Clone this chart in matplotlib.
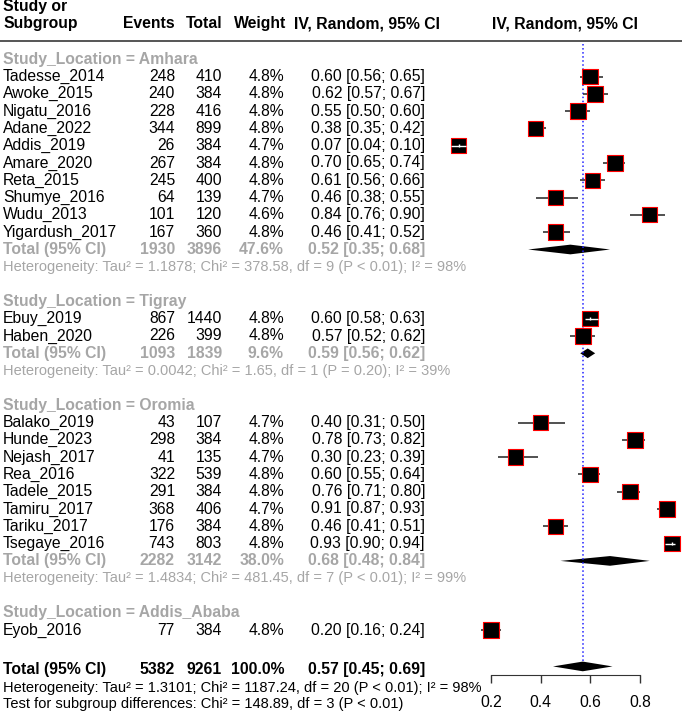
import matplotlib
matplotlib.use("Agg")
import matplotlib.pyplot as plt
import matplotlib.transforms as mtransforms
import numpy as np

plt.rcParams['font.family'] = ['Liberation Sans', 'DejaVu Sans']

# ---- data ----
groups = ["Amhara", "Tigray", "Oromia", "Addis_Ababa"]

studies = [
    ["Tadesse_2014", "Awoke_2015", "Nigatu_2016", "Adane_2022", "Addis_2019",
     "Amare_2020", "Reta_2015", "Shumye_2016", "Wudu_2013", "Yigardush_2017"],
    ["Ebuy_2019", "Haben_2020"],
    ["Balako_2019", "Hunde_2023", "Nejash_2017", "Rea_2016", "Tadele_2015",
     "Tamiru_2017", "Tariku_2017", "Tsegaye_2016"],
    ["Eyob_2016"],
]
events = [
    [248, 240, 228, 344, 26, 267, 245, 64, 101, 167],
    [867, 226],
    [43, 298, 41, 322, 291, 368, 176, 743],
    [77],
]
totals = [
    [410, 384, 416, 899, 384, 384, 400, 139, 120, 360],
    [1440, 399],
    [107, 384, 135, 539, 384, 406, 384, 803],
    [384],
]
weights = [
    [4.8, 4.8, 4.8, 4.8, 4.7, 4.8, 4.8, 4.7, 4.6, 4.8],
    [4.8, 4.8],
    [4.7, 4.8, 4.7, 4.8, 4.8, 4.7, 4.8, 4.8],
    [4.8],
]
est = [
    [0.60, 0.62, 0.55, 0.38, 0.07, 0.70, 0.61, 0.46, 0.84, 0.46],
    [0.60, 0.57],
    [0.40, 0.78, 0.30, 0.60, 0.76, 0.91, 0.46, 0.93],
    [0.20],
]
lower = [
    [0.56, 0.57, 0.50, 0.35, 0.04, 0.65, 0.56, 0.38, 0.76, 0.41],
    [0.58, 0.52],
    [0.31, 0.73, 0.23, 0.55, 0.71, 0.87, 0.41, 0.90],
    [0.16],
]
upper = [
    [0.65, 0.67, 0.60, 0.42, 0.10, 0.74, 0.66, 0.55, 0.90, 0.52],
    [0.63, 0.62],
    [0.50, 0.82, 0.39, 0.64, 0.80, 0.93, 0.51, 0.94],
    [0.24],
]

# subgroup pooled results (None for single-study group)
sub_events = [1930, 1093, 2282, None]
sub_totals = [3896, 1839, 3142, None]
sub_weight = [47.6, 9.6, 38.0, None]
sub_est = [0.52, 0.59, 0.68, None]
sub_lower = [0.35, 0.56, 0.48, None]
sub_upper = [0.68, 0.62, 0.84, None]
sub_het = [
    "Heterogeneity: Tau² = 1.1878; Chi² = 378.58, df = 9 (P < 0.01); I² = 98%",
    "Heterogeneity: Tau² = 0.0042; Chi² = 1.65, df = 1 (P = 0.20); I² = 39%",
    "Heterogeneity: Tau² = 1.4834; Chi² = 481.45, df = 7 (P < 0.01); I² = 99%",
    None,
]

overall_events = 5382
overall_total = 9261
overall_est, overall_lower, overall_upper = 0.57, 0.45, 0.69
overall_het = "Heterogeneity: Tau² = 1.3101; Chi² = 1187.24, df = 20 (P < 0.01); I² = 98%"
subgroup_test = "Test for subgroup differences: Chi² = 148.89, df = 3 (P < 0.01)"
xticks = [0.2, 0.4, 0.6, 0.8]

# ---- layout ----
W, H = 682, 711
row_h = 17.3
y_first = 76.5          # pixel position of row 0
x0_px, px_per_unit = 491.0, 248.0   # where 0.2 sits, and scale
GRAY = "#a6a6a6"
FS = 11.3
FS_HET = 10.5

fig = plt.figure(figsize=(W / 100, H / 100), dpi=100)
ax = fig.add_axes([0, 0, 1, 1])
ax.set_xlim(0.2 - x0_px / px_per_unit, 0.2 + (W - x0_px) / px_per_unit)
ax.set_ylim((H - y_first) / row_h, -y_first / row_h)

tr = mtransforms.blended_transform_factory(ax.transAxes, ax.transData)


def col(px):
    return px / W


def put(px, row, s, ha="left", color="black", bold=False, size=FS):
    ax.text(col(px), row, s, transform=tr, ha=ha, va="center", color=color,
            fontsize=size, fontweight="bold" if bold else "normal")


# header
put(3, -4.04, "Study or", bold=True)
put(3, -3.06, "Subgroup", bold=True)
put(175, -3.06, "Events", ha="right", bold=True)
put(223, -3.06, "Total", ha="right", bold=True)
put(286, -3.06, "Weight", ha="right", bold=True)
put(367.5, -3.06, "IV, Random, 95% CI", ha="center", bold=True)
put(565, -3.06, "IV, Random, 95% CI", ha="center", bold=True)
ax.axhline(-2.05, color="#555555", lw=1.4)

sq_rows, sq_est, sq_lo, sq_hi, sq_w = [], [], [], [], []
r = -1
for g in range(len(groups)):
    put(3, r, "Study_Location = " + groups[g], color=GRAY, bold=True)
    r += 1
    for i in range(len(studies[g])):
        put(3, r, studies[g][i])
        put(175, r, str(events[g][i]), ha="right")
        put(222, r, str(totals[g][i]), ha="right")
        put(284, r, f"{weights[g][i]:.1f}%", ha="right")
        put(425, r, f"{est[g][i]:.2f} [{lower[g][i]:.2f}; {upper[g][i]:.2f}]", ha="right")
        sq_rows.append(r)
        sq_est.append(est[g][i])
        sq_lo.append(lower[g][i])
        sq_hi.append(upper[g][i])
        sq_w.append(weights[g][i])
        r += 1
    if sub_est[g] is not None:
        put(3, r, "Total (95% CI)", color=GRAY, bold=True)
        put(175, r, str(sub_events[g]), ha="right", color=GRAY, bold=True)
        put(222, r, str(sub_totals[g]), ha="right", color=GRAY, bold=True)
        put(284, r, f"{sub_weight[g]:.1f}%", ha="right", color=GRAY, bold=True)
        put(425, r, f"{sub_est[g]:.2f} [{sub_lower[g]:.2f}; {sub_upper[g]:.2f}]",
            ha="right", color=GRAY, bold=True)
        hh = 0.28
        ax.fill([sub_lower[g], sub_est[g], sub_upper[g], sub_est[g]],
                [r, r - hh, r, r + hh], color="black", lw=0)
        r += 1
        put(3, r, sub_het[g], color=GRAY, size=FS_HET)
        r += 1
    r += 1

# overall
r_tot = r + 0.25
put(3, r_tot, "Total (95% CI)", bold=True)
put(175, r_tot, str(overall_events), ha="right", bold=True)
put(222, r_tot, str(overall_total), ha="right", bold=True)
put(284, r_tot, "100.0%", ha="right", bold=True)
put(425, r_tot, f"{overall_est:.2f} [{overall_lower:.2f}; {overall_upper:.2f}]",
    ha="right", bold=True)
put(3, r + 1.37, overall_het, size=FS_HET)
put(3, r + 2.25, subgroup_test, size=FS_HET)
ax.fill([overall_lower, overall_est, overall_upper, overall_est],
        [r + 0.1, r + 0.1 - 0.28, r + 0.1, r + 0.1 + 0.28], color="black", lw=0)

# reference line
ax.vlines(overall_est, -1.88, r - 0.2, colors="#2020ff", linestyles=":", lw=1.1)

# study squares with CIs
sq_rows = np.array(sq_rows)
sq_est = np.array(sq_est)
sq_lo = np.array(sq_lo)
sq_hi = np.array(sq_hi)
side_px = 15.5 * np.sqrt(np.array(sq_w) / 4.8)
ax.hlines(sq_rows, sq_lo, sq_hi, colors="#333333", lw=1.2, zorder=2)
ax.scatter(sq_est, sq_rows, marker="s", s=(side_px * 0.72) ** 2, c="black",
           edgecolors="red", linewidths=0.8, zorder=3)
half = side_px / 2 / px_per_unit
inside = (sq_est - sq_lo < half) & (sq_hi - sq_est < half)
ax.hlines(sq_rows[inside], sq_lo[inside], sq_hi[inside], colors="white", lw=1.0, zorder=4)
ax.vlines(sq_est[inside], sq_rows[inside] - 0.1, sq_rows[inside] + 0.1,
          colors="white", lw=1.0, zorder=4)

# x axis
for s in ["top", "left", "right"]:
    ax.spines[s].set_visible(False)
ax.spines["bottom"].set_position(("data", r + 0.6))
ax.spines["bottom"].set_bounds(xticks[0], xticks[-1])
ax.spines["bottom"].set_color("#333333")
ax.set_xticks(xticks)
ax.set_xticklabels([f"{t:.1f}" for t in xticks])
ax.tick_params(axis="x", direction="out", length=5.8, width=1, color="#333333",
               labelsize=FS, pad=8.5)
ax.set_yticks([])

fig.savefig("out.png", dpi=100)
